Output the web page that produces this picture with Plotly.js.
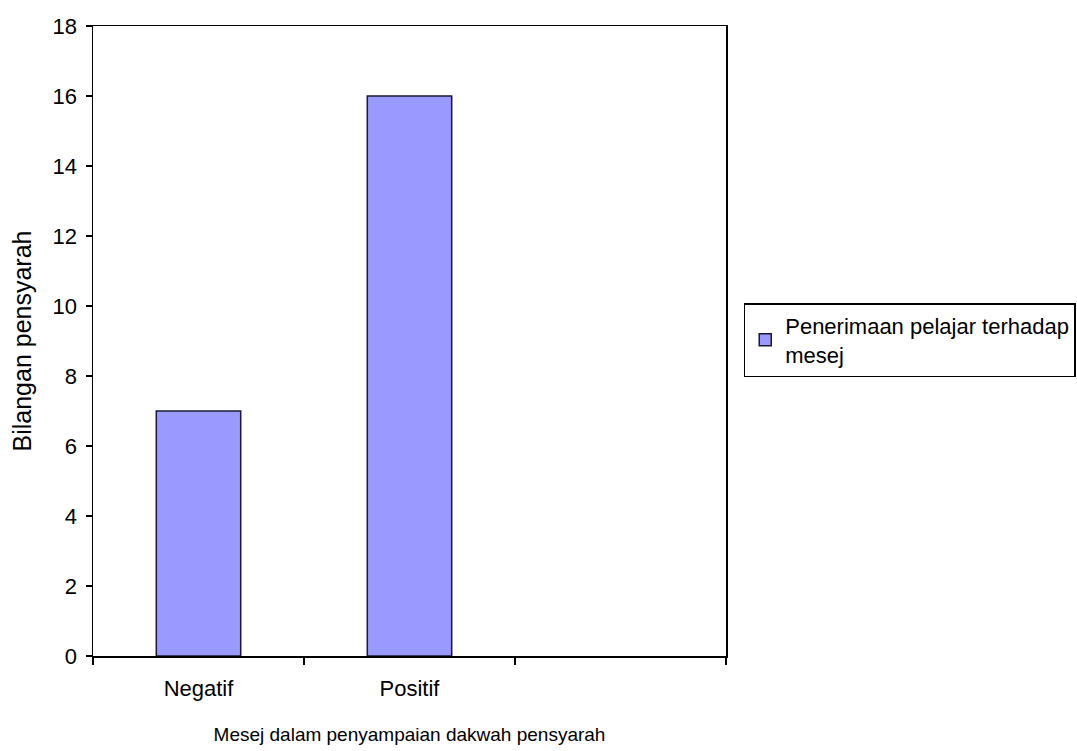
<!DOCTYPE html>
<html>
<head>
<meta charset="utf-8">
<script src="https://cdn.plot.ly/plotly-3.0.1.min.js"></script>
<style>html,body{margin:0;padding:0;background:#fff;} #chart{width:1077px;height:751px;}</style>
</head>
<body>
<div id="chart"></div>
<script>
var categories = ['Negatif', 'Positif', ' '];
var values = [7, 16, null];
var seriesName = 'Penerimaan pelajar terhadap<br>mesej';
var yTicks = [0, 2, 4, 6, 8, 10, 12, 14, 16, 18];

var font = 'Liberation Sans, Arial, sans-serif';

var trace = {
  type: 'bar',
  x: categories,
  y: values,
  name: seriesName,
  width: 0.4,
  marker: {color: '#9999FF', line: {color: '#1a1a33', width: 1.5}},
  showlegend: true
};

var layout = {
  width: 1077,
  height: 751,
  margin: {l: 93, r: 351, t: 26, b: 95, autoexpand: false},
  paper_bgcolor: '#ffffff',
  plot_bgcolor: '#ffffff',
  font: {family: font, color: '#000', size: 20},
  bargap: 0.6,
  xaxis: {
    type: 'category',
    categoryarray: categories,
    categoryorder: 'array',
    range: [-0.5, 2.5],
    showline: true, linecolor: '#000', linewidth: 1.5,
    mirror: true,
    ticks: 'outside', tickson: 'boundaries', ticklen: 7, tickcolor: '#000', tickwidth: 1.5,
    ticklabelstandoff: 12,
    tickfont: {size: 22, family: font},
    showgrid: false, zeroline: false,
    title: {text: 'Mesej dalam penyampaian dakwah pensyarah', font: {size: 19, family: font}, standoff: 28}
  },
  yaxis: {
    range: [0, 18],
    tickvals: yTicks,
    ticktext: yTicks.map(String),
    showline: true, linecolor: '#000', linewidth: 1.5,
    mirror: true,
    ticks: 'outside', ticklen: 6, tickcolor: '#000', tickwidth: 1.5,
    ticklabelstandoff: 4,
    tickfont: {size: 22, family: font},
    showgrid: false, zeroline: false,
    title: {text: 'Bilangan pensyarah', font: {size: 25, family: font}, standoff: 14}
  },
  legend: {
    x: 1.028, y: 0.56, xanchor: 'left', yanchor: 'top',
    bordercolor: '#000', borderwidth: 1.5, bgcolor: '#fff',
    font: {size: 22, family: font},
    itemwidth: 30,
    tracegroupgap: 0
  },
  showlegend: true
};

Plotly.newPlot('chart', [trace], layout, {displayModeBar: false, staticPlot: true});
</script>
</body>
</html>
